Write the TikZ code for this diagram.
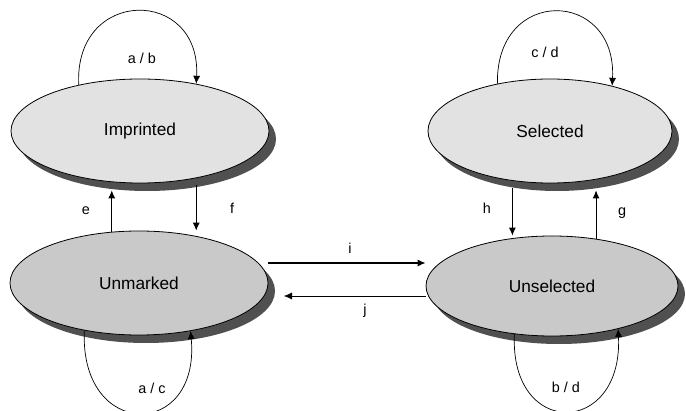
\documentclass[tikz,border=0pt]{standalone}
\usepackage{fontspec}
\setmainfont{Liberation Sans}
\usetikzlibrary{shapes.geometric,shadows,arrows.meta}
\definecolor{lightstate}{HTML}{E2E2E2}
\definecolor{darkstate}{HTML}{C9C9C9}
\definecolor{shadowgray}{HTML}{505050}
\tikzset{
  state/.style={ellipse, draw=black, line width=0.8pt, inner sep=0pt,
    minimum width=258pt, minimum height=104pt, font=\LARGE,
    drop shadow={shadow xshift=7pt, shadow yshift=-8pt, fill=shadowgray, opacity=1}},
  upper/.style={state, fill=lightstate},
  lower/.style={state, fill=darkstate},
  trans/.style={-{Latex[length=8pt,width=7pt]}, line width=0.9pt},
  loop/.style={trans, line width=0.7pt},
  lbl/.style={font=\Large, inner sep=1pt}
}
\begin{document}
\begin{tikzpicture}[x=1pt,y=-1pt]
\useasboundingbox (0,0) rectangle (686,411);

% states
\node[upper] (TL) at (140,131) {Imprinted};
\node[upper, minimum width=244pt] (TR) at (550,131) {Selected};
\node[lower] (BL) at (139,283) {Unmarked};
\node[lower, minimum width=252pt, minimum height=100pt] (BR) at (552,286) {Unselected};

% self transitions
\draw[loop] (TL.143) .. controls +(-5,-98) and +(5,-97) .. (TL.40);
\node[lbl] (tlloop) at (142,58) {a / b};
\draw[loop] (TR.138) .. controls +(-2,-98) and +(5,-97) .. (TR.36);
\node[lbl] (trloop) at (545,52) {c / d};
\draw[loop] (BL.221) .. controls +(-5,110) and +(10,109) .. (BL.317);
\node[lbl] (blloop) at (152,388) {a / c};
\draw[loop] (BR.232) .. controls +(-5,105) and +(5,108) .. (BR.327);
\node[lbl] (brloop) at (566,387) {b / d};

% vertical transitions
\draw[trans, shorten >=7pt] (BL.118) -- (BL.118 |- TL.south);
\node[lbl] (l1) at (86,211) {e};
\draw[trans, shorten <=7pt] (TL.320) -- (TL.320 |- BL.north);
\node[lbl] (l2) at (232,208) {f};
\draw[trans, shorten >=7pt] (BR.47) -- (BR.47 |- TR.south);
\node[lbl] (l3) at (622,213) {g};
\draw[trans, shorten <=7pt] (TR.233) -- (TR.233 |- BR.north);
\node[lbl] (l4) at (487,208) {h};

% horizontal transitions
\draw[trans, line width=1.2pt] (BL.east |- 0,263) -- (BR.west |- 0,263);
\node[lbl] (l5) at (350,248) {i};
\draw[trans, line width=0.4pt] (BR.west |- 0,296) -- (284,296);
\node[lbl] (l6) at (365,311) {j};
\end{tikzpicture}
\end{document}
